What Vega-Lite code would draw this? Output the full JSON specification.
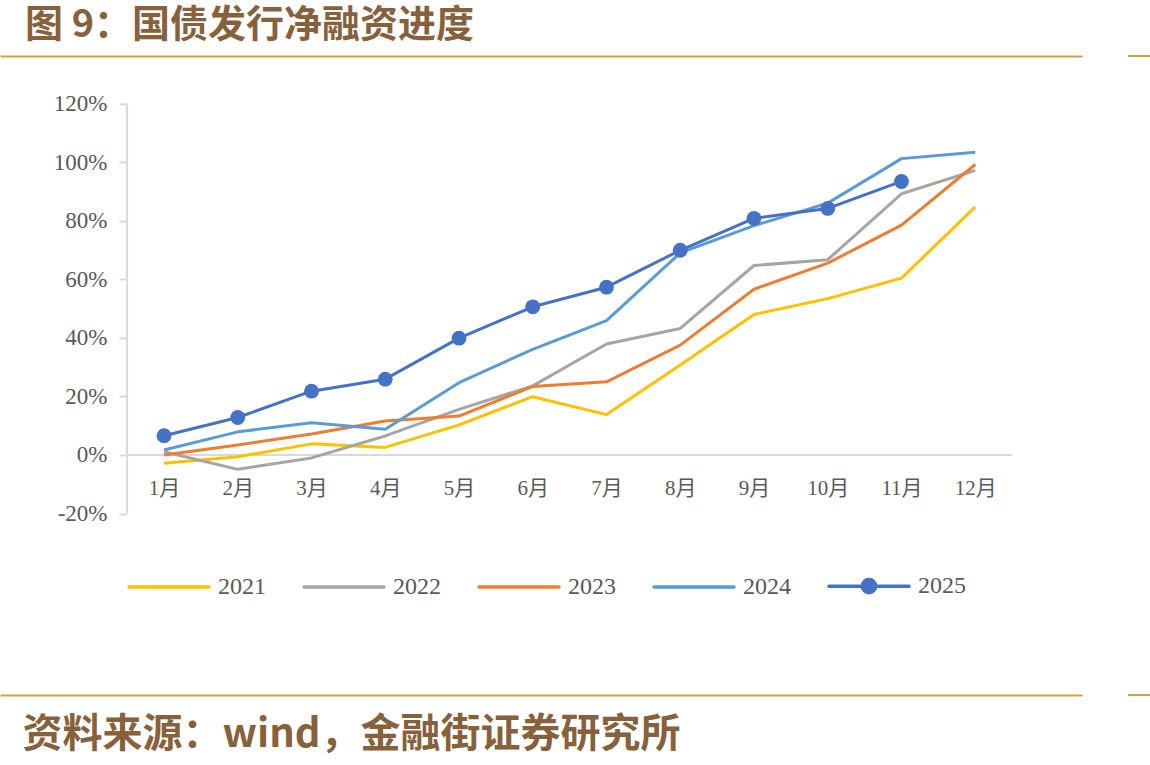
{
  "$schema": "https://vega.github.io/schema/vega-lite/v6.json",
  "width": 1082,
  "height": 639,
  "autosize": {"type": "none"},
  "padding": {"left": 0, "top": 56, "right": 68, "bottom": 70},
  "background": "white",
  "config": {"view": {"stroke": null}},
  "title": {
    "text": "图 9：国债发行净融资进度",
    "anchor": "start",
    "frame": "group",
    "dx": 25,
    "offset": 10,
    "font": "Noto Sans CJK SC",
    "fontSize": 38,
    "fontWeight": "bold",
    "color": "#87613B"
  },
  "datasets": {
    "progress": [
      {"year": "2021", "month": 1, "value": -2.8},
      {"year": "2021", "month": 2, "value": -0.6},
      {"year": "2021", "month": 3, "value": 3.8},
      {"year": "2021", "month": 4, "value": 2.6},
      {"year": "2021", "month": 5, "value": 10.3},
      {"year": "2021", "month": 6, "value": 19.9},
      {"year": "2021", "month": 7, "value": 13.8},
      {"year": "2021", "month": 8, "value": 30.7},
      {"year": "2021", "month": 9, "value": 48.0},
      {"year": "2021", "month": 10, "value": 53.4},
      {"year": "2021", "month": 11, "value": 60.4},
      {"year": "2021", "month": 12, "value": 84.7},
      {"year": "2022", "month": 1, "value": 1.1},
      {"year": "2022", "month": 2, "value": -4.9},
      {"year": "2022", "month": 3, "value": -1.0},
      {"year": "2022", "month": 4, "value": 6.5},
      {"year": "2022", "month": 5, "value": 15.6},
      {"year": "2022", "month": 6, "value": 23.6},
      {"year": "2022", "month": 7, "value": 37.9},
      {"year": "2022", "month": 8, "value": 43.2},
      {"year": "2022", "month": 9, "value": 64.7},
      {"year": "2022", "month": 10, "value": 66.7},
      {"year": "2022", "month": 11, "value": 89.2},
      {"year": "2022", "month": 12, "value": 97.2},
      {"year": "2023", "month": 1, "value": 0.0},
      {"year": "2023", "month": 2, "value": 3.4},
      {"year": "2023", "month": 3, "value": 7.2},
      {"year": "2023", "month": 4, "value": 11.6},
      {"year": "2023", "month": 5, "value": 13.3},
      {"year": "2023", "month": 6, "value": 23.4},
      {"year": "2023", "month": 7, "value": 25.0},
      {"year": "2023", "month": 8, "value": 37.5},
      {"year": "2023", "month": 9, "value": 56.6},
      {"year": "2023", "month": 10, "value": 65.5},
      {"year": "2023", "month": 11, "value": 78.5},
      {"year": "2023", "month": 12, "value": 99.2},
      {"year": "2024", "month": 1, "value": 1.7},
      {"year": "2024", "month": 2, "value": 7.9},
      {"year": "2024", "month": 3, "value": 11.0},
      {"year": "2024", "month": 4, "value": 8.8},
      {"year": "2024", "month": 5, "value": 24.7},
      {"year": "2024", "month": 6, "value": 36.1},
      {"year": "2024", "month": 7, "value": 45.9},
      {"year": "2024", "month": 8, "value": 69.0},
      {"year": "2024", "month": 9, "value": 78.3},
      {"year": "2024", "month": 10, "value": 86.0},
      {"year": "2024", "month": 11, "value": 101.2},
      {"year": "2024", "month": 12, "value": 103.4},
      {"year": "2025", "month": 1, "value": 6.6},
      {"year": "2025", "month": 2, "value": 12.8},
      {"year": "2025", "month": 3, "value": 21.8},
      {"year": "2025", "month": 4, "value": 25.9},
      {"year": "2025", "month": 5, "value": 39.9},
      {"year": "2025", "month": 6, "value": 50.6},
      {"year": "2025", "month": 7, "value": 57.3},
      {"year": "2025", "month": 8, "value": 69.9},
      {"year": "2025", "month": 9, "value": 80.8},
      {"year": "2025", "month": 10, "value": 84.2},
      {"year": "2025", "month": 11, "value": 93.4}
    ]
  },
  "layer": [
    {
      "data": {"values": [{}]},
      "mark": {"type": "rule", "color": "#D9D9D9", "strokeWidth": 2},
      "encoding": {
        "x": {"datum": 0.5, "type": "quantitative", "scale": {"domain": [-1.2237, 13.4475], "nice": false, "zero": false}, "axis": null},
        "y": {"datum": -20, "type": "quantitative", "scale": {"domain": [-81.95, 136.24], "nice": false, "zero": false}},
        "y2": {"datum": 120}
      }
    },
    {
      "data": {"values": [{}]},
      "mark": {"type": "rule", "color": "#D9D9D9", "strokeWidth": 2},
      "encoding": {
        "x": {"datum": 0.5, "type": "quantitative", "scale": {"domain": [-1.2237, 13.4475], "nice": false, "zero": false}, "axis": null},
        "x2": {"datum": 12.5},
        "y": {"datum": 0, "type": "quantitative", "scale": {"domain": [-81.95, 136.24], "nice": false, "zero": false}}
      }
    },
    {
      "data": {"name": "progress"},
      "mark": {"type": "line", "strokeWidth": 3, "strokeJoin": "round"},
      "encoding": {
        "x": {
          "field": "month",
          "type": "quantitative",
          "scale": {"domain": [-1.2237, 13.4475], "nice": false, "zero": false},
          "axis": {
            "orient": "bottom",
            "values": [1, 2, 3, 4, 5, 6, 7, 8, 9, 10, 11, 12],
            "labelExpr": "datum.value + '月'",
            "ticks": false,
            "tickSize": 0,
            "grid": false,
            "labelPadding": -207,
            "labelBaseline": "middle",
            "labelFlush": false,
            "labelOverlap": false,
            "labelFont": "Liberation Serif, Noto Sans CJK SC",
            "labelFontSize": 21,
            "labelColor": "#595959",
            "domainColor": "#D6A040",
            "domainWidth": 2,
            "title": "资料来源：wind，金融街证券研究所",
            "titleX": 22,
            "titleY": 39,
            "titleAlign": "left",
            "titleBaseline": "middle",
            "titleFont": "Noto Sans CJK SC",
            "titleFontSize": 40,
            "titleFontWeight": "bold",
            "titleColor": "#87613B",
            "titleLimit": 1100
          }
        },
        "y": {
          "field": "value",
          "type": "quantitative",
          "scale": {"domain": [-81.95, 136.24], "nice": false, "zero": false},
          "axis": {
            "values": [-20, 0, 20, 40, 60, 80, 100, 120],
            "labelExpr": "datum.value + '%'",
            "offset": -127,
            "domain": false,
            "grid": false,
            "ticks": true,
            "tickColor": "#D9D9D9",
            "tickWidth": 2,
            "tickSize": 8,
            "labelPadding": 12,
            "labelFont": "Liberation Serif",
            "labelFontSize": 23,
            "labelColor": "#595959",
            "title": null
          }
        },
        "color": {
          "field": "year",
          "type": "nominal",
          "scale": {
            "domain": ["2021", "2022", "2023", "2024", "2025"],
            "range": ["#FFC000", "#A5A5A5", "#ED7D31", "#5B9BD5", "#4472C4"]
          },
          "legend": {
            "orient": "none",
            "legendX": 127,
            "legendY": 488,
            "direction": "horizontal",
            "columns": 5,
            "title": null,
            "padding": 0,
            "symbolType": "stroke",
            "symbolSize": 6400,
            "symbolStrokeWidth": 3.5,
            "labelFont": "Liberation Serif",
            "labelFontSize": 24,
            "labelColor": "#595959",
            "labelOffset": 7,
            "columnPadding": 31,
            "encode": {
              "symbols": {
                "update": {
                  "shape": {"signal": "datum.value === '2025' ? 'M-1,0L1,0M-0.165,0A0.165,0.165,0,1,1,0.165,0A0.165,0.165,0,1,1,-0.165,0Z' : 'M-1,0L1,0'"},
                  "fill": {"signal": "datum.value === '2025' ? '#4472C4' : 'transparent'"},
                  "strokeCap": {"value": "round"}
                }
              }
            }
          }
        }
      }
    },
    {
      "data": {"name": "progress"},
      "transform": [{"filter": "datum.year === '2025'"}],
      "mark": {"type": "point", "filled": true, "opacity": 1, "size": 220, "color": "#4472C4"},
      "encoding": {
        "x": {"field": "month", "type": "quantitative", "scale": {"domain": [-1.2237, 13.4475], "nice": false, "zero": false}, "axis": null},
        "y": {"field": "value", "type": "quantitative", "scale": {"domain": [-81.95, 136.24], "nice": false, "zero": false}}
      }
    },
    {
      "data": {"values": [{}]},
      "mark": {"type": "rule", "color": "#D6A040", "strokeWidth": 2, "clip": false},
      "encoding": {
        "x": {
          "datum": 14.071,
          "type": "quantitative",
          "scale": {"domain": [-1.2237, 13.4475], "nice": false, "zero": false},
          "axis": {"orient": "top", "labels": false, "ticks": false, "grid": false, "domainColor": "#D6A040", "domainWidth": 2, "title": null}
        },
        "x2": {"datum": 14.37},
        "y": {"datum": 136.24, "type": "quantitative", "scale": {"domain": [-81.95, 136.24], "nice": false, "zero": false}}
      }
    },
    {
      "data": {"values": [{}]},
      "mark": {"type": "rule", "color": "#D6A040", "strokeWidth": 2, "clip": false},
      "encoding": {
        "x": {"datum": 14.071, "type": "quantitative", "scale": {"domain": [-1.2237, 13.4475], "nice": false, "zero": false}, "axis": null},
        "x2": {"datum": 14.37},
        "y": {"datum": -81.95, "type": "quantitative", "scale": {"domain": [-81.95, 136.24], "nice": false, "zero": false}}
      }
    }
  ],
  "resolve": {"axis": {"x": "independent"}}
}
